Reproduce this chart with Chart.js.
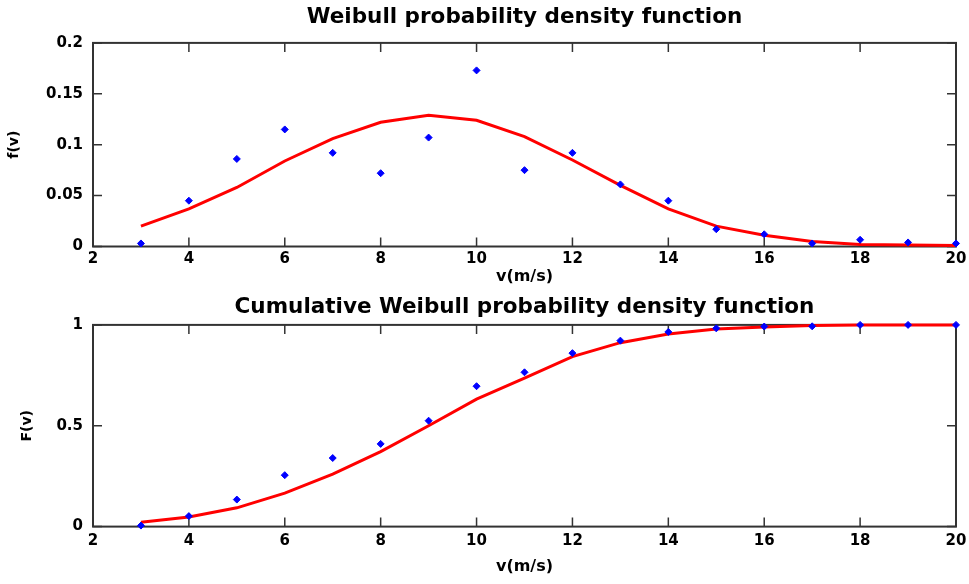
<!DOCTYPE html>
<html>
<head>
<meta charset="utf-8">
<script src="https://cdn.jsdelivr.net/npm/chart.js@4.4.1/dist/chart.umd.min.js"></script>
<style>
  html, body { margin: 0; padding: 0; background: #fff; }
  #wrap { position: relative; width: 969px; height: 584px; }
  canvas { position: absolute; left: 0; }
  #c1 { top: 0; }
  #c2 { top: 292px; }
</style>
</head>
<body>
<div id="wrap">
  <canvas id="c1" width="969" height="292"></canvas>
  <canvas id="c2" width="969" height="292"></canvas>
</div>
<script>
// ---- data ----
const windSpeed = [3,4,5,6,7,8,9,10,11,12,13,14,15,16,17,18,19,20];
const pdfObserved = [0.003,0.045,0.086,0.115,0.092,0.072,0.107,0.173,0.075,0.092,0.061,0.045,0.017,0.012,0.003,0.0066,0.004,0.003];
const pdfFitted   = [0.020,0.037,0.058,0.084,0.106,0.122,0.129,0.124,0.108,0.085,0.060,0.037,0.020,0.011,0.005,0.002,0.0015,0.001];
const cdfObserved = [0.005,0.052,0.134,0.255,0.34,0.41,0.525,0.696,0.765,0.86,0.922,0.965,0.983,0.992,0.993,1.0,1.0,1.0];
const cdfFitted   = [0.022,0.048,0.093,0.166,0.26,0.372,0.5,0.632,0.736,0.843,0.912,0.955,0.98,0.99,0.997,1.0,1.0,1.0];

const xTicks = [2,4,6,8,10,12,14,16,18,20];
const xTickLabels = ['2','4','6','8','10','12','14','16','18','20'];
const yTicksTop = [0,0.05,0.1,0.15,0.2];
const yTickLabelsTop = ['0','0.05','0.1','0.15','0.2'];
const yTicksBottom = [0,0.5,1];
const yTickLabelsBottom = ['0','0.5','1'];

const titleTop = 'Weibull probability density function';
const titleBottom = 'Cumulative Weibull probability density function';
const xTitle = 'v(m/s)';
const yTitleTop = 'f(v)';
const yTitleBottom = 'F(v)';

const FONT = 'DejaVu Sans';

function pts(ys) { return windSpeed.map((x, i) => ({x: x, y: ys[i]})); }

const framePlugin = {
  id: 'frame',
  beforeDatasetsDraw(chart) {
    const {ctx, chartArea: a, scales} = chart;
    ctx.save();
    ctx.strokeStyle = '#333';
    ctx.lineWidth = 2;
    ctx.strokeRect(a.left, a.top, a.right - a.left, a.bottom - a.top);
    ctx.lineWidth = 1.5;
    const L = 9;
    ctx.beginPath();
    scales.x.ticks.forEach(t => {
      const px = scales.x.getPixelForValue(t.value);
      ctx.moveTo(px, a.bottom); ctx.lineTo(px, a.bottom - L);
      ctx.moveTo(px, a.top); ctx.lineTo(px, a.top + L);
    });
    scales.y.ticks.forEach(t => {
      const py = scales.y.getPixelForValue(t.value);
      ctx.moveTo(a.left, py); ctx.lineTo(a.left + L, py);
      ctx.moveTo(a.right, py); ctx.lineTo(a.right - L, py);
    });
    ctx.stroke();
    ctx.restore();
  }
};

function makeChart(id, cfg) {
  return new Chart(document.getElementById(id), {
    type: 'line',
    data: {
      datasets: [
        { data: pts(cfg.obs), showLine: false, pointStyle: 'rectRot', pointRadius: 3.5,
          pointBackgroundColor: '#0000ff', pointBorderColor: '#0000ff', pointBorderWidth: 1, clip: false },
        { data: pts(cfg.fit), borderColor: '#ff0000', borderWidth: 3, pointRadius: 0,
          tension: 0, fill: false, clip: false }
      ]
    },
    options: {
      responsive: false,
      animation: false,
      devicePixelRatio: 1,
      layout: { padding: 0 },
      plugins: {
        legend: { display: false },
        tooltip: { enabled: false },
        title: {
          display: true, text: cfg.title, fullSize: false, color: '#000',
          font: { family: FONT, size: 21.5, weight: 'bold' },
          padding: cfg.titlePad
        }
      },
      scales: {
        x: {
          type: 'linear', min: 2, max: 20,
          afterBuildTicks(s) { s.ticks = xTicks.map(v => ({value: v})); },
          afterFit(s) { s.height = cfg.xHeight; s.paddingLeft = 0; s.paddingRight = 13; },
          grid: { display: false, drawTicks: false },
          border: { display: false },
          ticks: {
            color: '#000', padding: cfg.xTickPad, maxRotation: 0, autoSkip: false,
            font: { family: FONT, size: 15, weight: 'bold' },
            callback: (v) => xTickLabels[xTicks.indexOf(v)]
          },
          title: {
            display: true, text: xTitle, color: '#000',
            font: { family: FONT, size: 16, weight: 'bold' },
            padding: { top: 0, bottom: cfg.xTitlePad }
          }
        },
        y: {
          min: cfg.yTicks[0], max: cfg.yTicks[cfg.yTicks.length - 1],
          afterBuildTicks(s) { s.ticks = cfg.yTicks.map(v => ({value: v})); },
          afterFit(s) { s.width = 93; },
          grid: { display: false, drawTicks: false },
          border: { display: false },
          ticks: {
            color: '#000', padding: 10, autoSkip: false,
            font: { family: FONT, size: 15, weight: 'bold' },
            callback: (v) => cfg.yLabels[cfg.yTicks.indexOf(v)]
          },
          title: {
            display: true, text: cfg.yTitle, color: '#000',
            font: { family: FONT, size: 14, weight: 'bold' },
            padding: { top: cfg.yTitlePad, bottom: 0 }
          }
        }
      }
    },
    plugins: [framePlugin]
  });
}

makeChart('c1', {
  obs: pdfObserved, fit: pdfFitted, title: titleTop,
  titlePad: { top: 4.5, bottom: 12.6 },
  xHeight: 45.5, xTickPad: 4, xTitlePad: 5.5,
  yTicks: yTicksTop, yLabels: yTickLabelsTop, yTitle: yTitleTop, yTitlePad: 6
});
makeChart('c2', {
  obs: cdfObserved, fit: cdfFitted, title: titleBottom,
  titlePad: { top: 2.5, bottom: 4.6 },
  xHeight: 57.4, xTickPad: 6, xTitlePad: 7.5,
  yTicks: yTicksBottom, yLabels: yTickLabelsBottom, yTitle: yTitleBottom, yTitlePad: 18.5
});
</script>
</body>
</html>
